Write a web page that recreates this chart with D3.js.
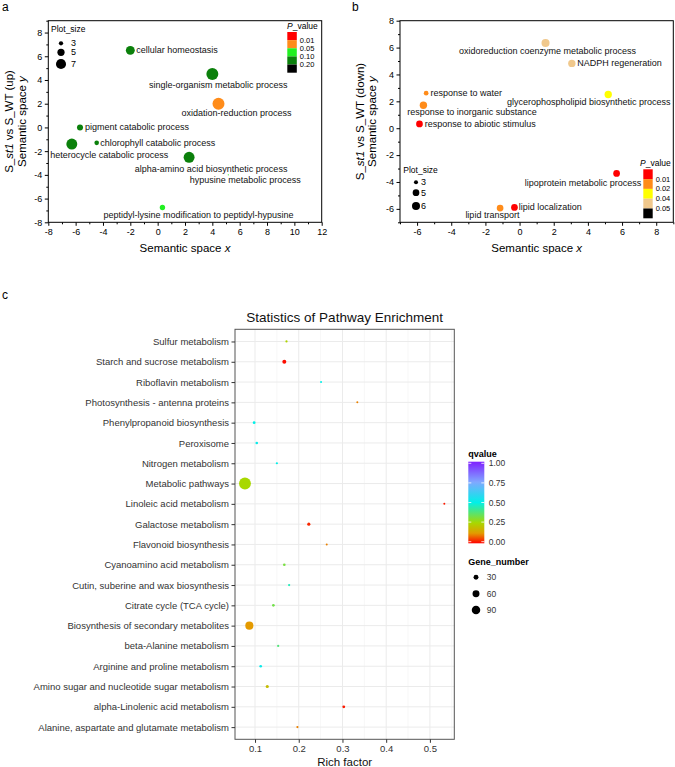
<!DOCTYPE html>
<html><head><meta charset="utf-8">
<script src="https://cdn.jsdelivr.net/npm/d3@7"></script>
<style>body{margin:0;background:#fff} svg{display:block} text{font-family:"Liberation Sans",Arial,Helvetica,sans-serif}</style>
</head><body><svg id="fig" width="675" height="767"></svg>
<script>
// ---------- Panel a data ----------
const aTerms = ["cellular homeostasis","single-organism metabolic process","oxidation-reduction process","pigment catabolic process","chlorophyll catabolic process","heterocycle catabolic process","alpha-amino acid biosynthetic process","hypusine metabolic process","peptidyl-lysine modification to peptidyl-hypusine"];
const aX = [-2.0, 4.0, 4.45, -5.68, -4.46, -6.28, 2.3, 5.17, 0.35];
const aY = [6.5, 4.5, 2.0, 0.0, -1.3, -1.4, -2.52, -4.0, -6.75];
const aPlotSize = [6.2, 8.3, 8.3, 4.2, 3.2, 7.6, 7.6, 0.8, 3.7];
const aPvalue = [0.15, 0.15, 0.03, 0.15, 0.15, 0.15, 0.15, 0.07, 0.07];
const aPBreaks = [0.01, 0.05, 0.10, 0.20];
const aPBreakLabels = ["0.01","0.05","0.10","0.20"];
const aPColors = ["#ff0000","#ff8c1a","#22f022","#0b800b","#000000"];
const aSizeLegend = [3, 5, 7];
const aXTicks = [-8,-6,-4,-2,0,2,4,6,8,10,12];
const aYTicks = [-8,-6,-4,-2,0,2,4,6,8];

// ---------- Panel b data ----------
const bTerms = ["oxidoreduction coenzyme metabolic process","NADPH regeneration","response to water","glycerophospholipid biosynthetic process","response to inorganic substance","response to abiotic stimulus","lipoprotein metabolic process","lipid transport","lipid localization"];
const bX = [1.52, 3.06, -5.47, 5.19, -5.63, -5.86, 5.68, -1.14, -0.3];
const bY = [6.34, 4.82, 2.61, 2.51, 1.71, 0.32, -3.36, -5.94, -5.89];
const bPlotSize = [6, 5.5, 3.5, 5.5, 5.5, 5, 5, 5, 5];
const bPvalue = [0.045, 0.045, 0.015, 0.03, 0.015, 0.005, 0.005, 0.015, 0.005];
const bPBreaks = [0.01, 0.02, 0.04, 0.05];
const bPBreakLabels = ["0.01","0.02","0.04","0.05"];
const bPColors = ["#ff0000","#ff8c1a","#ffff00","#f0c88c","#000000"];
const bSizeLegend = [3, 5, 6];
const bXTicks = [-6,-4,-2,0,2,4,6,8];
const bYTicks = [-6,-4,-2,0,2,4,6,8];

// ---------- Panel c data ----------
const pathways = ["Sulfur metabolism","Starch and sucrose metabolism","Riboflavin metabolism","Photosynthesis - antenna proteins","Phenylpropanoid biosynthesis","Peroxisome","Nitrogen metabolism","Metabolic pathways","Linoleic acid metabolism","Galactose metabolism","Flavonoid biosynthesis","Cyanoamino acid metabolism","Cutin, suberine and wax biosynthesis","Citrate cycle (TCA cycle)","Biosynthesis of secondary metabolites","beta-Alanine metabolism","Arginine and proline metabolism","Amino sugar and nucleotide sugar metabolism","alpha-Linolenic acid metabolism","Alanine, aspartate and glutamate metabolism"];
const richFactor = [0.172, 0.167, 0.251, 0.334, 0.098, 0.104, 0.150, 0.077, 0.533, 0.223, 0.264, 0.167, 0.178, 0.142, 0.087, 0.153, 0.113, 0.128, 0.303, 0.197];
const qvalue = [0.24, 0.01, 0.50, 0.10, 0.50, 0.52, 0.50, 0.25, 0.02, 0.03, 0.10, 0.32, 0.45, 0.33, 0.12, 0.38, 0.52, 0.19, 0.02, 0.10];
const geneNumber = [5, 16, 4, 4, 8, 7, 5, 142, 4, 10, 4, 7, 5, 7, 66, 5, 7, 10, 8, 5];
const cXTicks = [0.1, 0.2, 0.3, 0.4, 0.5];
const qLegendTicks = [0, 0.25, 0.5, 0.75, 1];
const geneLegend = [30, 60, 90];
const qStops = [0, 0.12, 0.25, 0.5, 0.75, 1];
const qColors = ["#ff0000", "#e49a00", "#a8d800", "#00f0e8", "#80a8ff", "#8020ff"];

// ---------- layout (label placement, not data) ----------
const aLabelLayout = [
  {a:"start", dx:6, dy:0}, {a:"middle", dx:6, dy:10.7}, {a:"middle", dx:18, dy:9.6},
  {a:"start", dx:5, dy:0}, {a:"start", dx:3.5, dy:0}, {a:"middle", dx:37.5, dy:10.6},
  {a:"middle", dx:22, dy:11.3}, {a:"middle", dx:17, dy:4.7}, {a:"middle", dx:36, dy:7.7}];
const bLabelLayout = [
  {a:"middle", dx:2, dy:8}, {a:"start", dx:5.4, dy:0}, {a:"start", dx:4.3, dy:0},
  {a:"middle", dx:-19.4, dy:8}, {a:"middle", dx:48.7, dy:7}, {a:"start", dx:5.3, dy:0},
  {a:"middle", dx:-33.5, dy:9.3}, {a:"middle", dx:-7.7, dy:6.7}, {a:"start", dx:4.3, dy:-0.6}];

const svg = d3.select("#fig");

function scatterPanel(cfg) {
  const g = svg.append("g");
  const x = d3.scaleLinear().domain(cfg.xDom).range(cfg.xRange);
  const y = d3.scaleLinear().domain(cfg.yDom).range(cfg.yRange);
  const [x0, x1] = cfg.xRange, [y0, y1] = cfg.yRange; // y0 bottom
  g.append("rect").attr("x", x0).attr("y", y1).attr("width", x1 - x0).attr("height", y0 - y1)
    .attr("fill", "none").attr("stroke", "#000").attr("stroke-width", 1);
  const minorX = d3.range(Math.ceil(cfg.xDom[0]), cfg.xDom[1] + 0.001, 1).filter(v => !cfg.xTicks.includes(v));
  const minorY = d3.range(Math.ceil(cfg.yDom[0]), cfg.yDom[1] + 0.001, 1).filter(v => !cfg.yTicks.includes(v));
  const xa = g.append("g").attr("transform", `translate(0,${y0})`)
    .call(d3.axisBottom(x).tickValues(cfg.xTicks).tickSize(3.5).tickPadding(2.5).tickFormat(d3.format("d")));
  const xm = g.append("g").attr("transform", `translate(0,${y0})`)
    .call(d3.axisBottom(x).tickValues(minorX).tickSize(2).tickFormat(""));
  const ya = g.append("g").attr("transform", `translate(${x0},0)`)
    .call(d3.axisLeft(y).tickValues(cfg.yTicks).tickSize(3.5).tickPadding(2.5).tickFormat(d3.format("d")));
  const ym = g.append("g").attr("transform", `translate(${x0},0)`)
    .call(d3.axisLeft(y).tickValues(minorY).tickSize(2).tickFormat(""));
  [xa, xm, ya, ym].forEach(s => { s.select(".domain").remove(); s.selectAll("line").attr("stroke", "#000"); });
  [xa, ya].forEach(s => s.selectAll("text").attr("font-size", 9).attr("fill", "#000")
     .text(d => d < 0 ? "-" + Math.abs(d) : d));
  const pColor = d3.scaleThreshold().domain(cfg.pBreaks).range(cfg.pColors);
  const r = v => v * cfg.rk;
  const idx = d3.range(cfg.terms.length);
  g.selectAll("circle.pt").data(idx).join("circle").attr("class", "pt")
    .attr("cx", i => x(cfg.xs[i])).attr("cy", i => y(cfg.ys[i]))
    .attr("r", i => r(cfg.sizes[i])).attr("fill", i => pColor(cfg.ps[i]));
  g.selectAll("text.lbl").data(idx).join("text").attr("class", "lbl")
    .attr("x", i => x(cfg.xs[i]) + cfg.layout[i].dx).attr("y", i => y(cfg.ys[i]) + cfg.layout[i].dy)
    .attr("text-anchor", i => cfg.layout[i].a).attr("dominant-baseline", "central")
    .attr("font-size", 9).attr("fill", "#111").text(i => cfg.terms[i]);
  const xt = g.append("text").attr("x", (x0 + x1) / 2).attr("y", cfg.xTitleY).attr("text-anchor", "middle")
    .attr("font-size", 11.5).attr("dominant-baseline", "central");
  xt.append("tspan").text("Semantic space ");
  xt.append("tspan").attr("font-style", "italic").text("x");
  const cy = (y0 + y1) / 2;
  const yt1 = g.append("text").attr("transform", `translate(${cfg.yTitleX1},${cy}) rotate(-90)`)
    .attr("text-anchor", "middle").attr("font-size", 11.5).attr("dominant-baseline", "central");
  yt1.append("tspan").text("S_");
  yt1.append("tspan").attr("font-style", "italic").text("st1");
  yt1.append("tspan").text(cfg.yTitleTail);
  const yt2 = g.append("text").attr("transform", `translate(${cfg.yTitleX2},${cy}) rotate(-90)`)
    .attr("text-anchor", "middle").attr("font-size", 11.5).attr("dominant-baseline", "central");
  yt2.append("tspan").text("Semantic space ");
  yt2.append("tspan").attr("font-style", "italic").text("y");
  const sl = cfg.sizeLeg;
  g.append("text").attr("x", sl.x).attr("y", sl.titleY).attr("font-size", 8.5)
    .attr("dominant-baseline", "central").text("Plot_size");
  cfg.sizeLegend.forEach((v, k) => {
    g.append("circle").attr("cx", sl.cx).attr("cy", sl.ys[k]).attr("r", r(v)).attr("fill", "#000");
    g.append("text").attr("x", sl.tx).attr("y", sl.ys[k]).attr("font-size", 9)
      .attr("dominant-baseline", "central").text(v);
  });
  const pl = cfg.pLeg;
  const pt = g.append("text").attr("x", pl.titleX).attr("y", pl.titleY).attr("font-size", 8.5)
    .attr("dominant-baseline", "central");
  pt.append("tspan").attr("font-style", "italic").text("P");
  pt.append("tspan").text("_value");
  const cellH = pl.h / cfg.pColors.length;
  cfg.pColors.forEach((c, k) => {
    g.append("rect").attr("x", pl.x).attr("y", pl.y + k * cellH).attr("width", pl.w).attr("height", cellH).attr("fill", c);
  });
  cfg.pBreakLabels.forEach((t, k) => {
    g.append("text").attr("x", pl.x + pl.w + 3).attr("y", pl.y + (k + 1) * cellH)
      .attr("font-size", 7.5).attr("dominant-baseline", "central").text(t);
  });
  g.append("text").attr("x", cfg.letterX).attr("y", 11).attr("font-size", 12).text(cfg.letter);
}

scatterPanel({
  letter: "a", letterX: 2,
  terms: aTerms, xs: aX, ys: aY, sizes: aPlotSize, ps: aPvalue, layout: aLabelLayout,
  xDom: [-8, 12], yDom: [-8, 9], xRange: [48.3, 321.7], yRange: [222.3, 20.7],
  xTicks: aXTicks, yTicks: aYTicks, rk: 0.72,
  pBreaks: aPBreaks, pColors: aPColors, pBreakLabels: aPBreakLabels, sizeLegend: aSizeLegend,
  xTitleY: 248, yTitleX1: 9, yTitleX2: 22, yTitleTail: " vs S_WT (up)",
  sizeLeg: {x: 51, titleY: 29.3, cx: 61, tx: 71, ys: [43.3, 52.3, 64]},
  pLeg: {titleX: 287, titleY: 26, x: 287.3, y: 32, w: 9.5, h: 40.7}
});

scatterPanel({
  letter: "b", letterX: 352,
  terms: bTerms, xs: bX, ys: bY, sizes: bPlotSize, ps: bPvalue, layout: bLabelLayout,
  xDom: [-7, 9], yDom: [-7, 8], xRange: [400, 673.3], yRange: [222.3, 20.7],
  xTicks: bXTicks, yTicks: bYTicks, rk: 0.67,
  pBreaks: bPBreaks, pColors: bPColors, pBreakLabels: bPBreakLabels, sizeLegend: bSizeLegend,
  xTitleY: 248.3, yTitleX1: 360, yTitleX2: 372, yTitleTail: " vs S_WT (down)",
  sizeLeg: {x: 403.3, titleY: 170, cx: 416, tx: 421, ys: [182.3, 192.7, 206]},
  pLeg: {titleX: 640, titleY: 163.3, x: 643.3, y: 169.3, w: 9.4, h: 49}
});

// ---------- Panel c ----------
(function () {
  const g = svg.append("g");
  const L = 235, R = 454.3, T = 329.3, B = 739.3;
  const ext = d3.extent(richFactor), span = ext[1] - ext[0];
  const x = d3.scaleLinear().domain([ext[0] - 0.05 * span, ext[1] + 0.05 * span]).range([L, R]);
  const y = d3.scalePoint().domain(pathways).range([T, B]).padding(0.6);
  const col = d3.scaleLinear().domain(qStops).range(qColors).interpolate(d3.interpolateRgb);
  const rs = d3.scaleSqrt().domain([0, 150]).range([0, 6.1]);
  const minor = d3.range(0.05, 0.6, 0.1).map(v => +v.toFixed(2)).filter(v => x(v) > L && x(v) < R);
  g.selectAll("line.gmin").data(minor).join("line").attr("x1", d => x(d)).attr("x2", d => x(d))
    .attr("y1", T).attr("y2", B).attr("stroke", "#f2f2f2").attr("stroke-width", 0.6);
  g.selectAll("line.gx").data(cXTicks).join("line").attr("x1", d => x(d)).attr("x2", d => x(d))
    .attr("y1", T).attr("y2", B).attr("stroke", "#ebebeb").attr("stroke-width", 1);
  g.selectAll("line.gy").data(pathways).join("line").attr("x1", L).attr("x2", R)
    .attr("y1", d => y(d)).attr("y2", d => y(d)).attr("stroke", "#ebebeb").attr("stroke-width", 1);
  const idx = d3.range(pathways.length);
  g.selectAll("circle.pt").data(idx).join("circle")
    .attr("cx", i => x(richFactor[i])).attr("cy", i => y(pathways[i]))
    .attr("r", i => rs(geneNumber[i])).attr("fill", i => col(qvalue[i]));
  g.append("rect").attr("x", L).attr("y", T).attr("width", R - L).attr("height", B - T)
    .attr("fill", "none").attr("stroke", "#555").attr("stroke-width", 1);
  const xa = g.append("g").attr("transform", `translate(0,${B})`)
    .call(d3.axisBottom(x).tickValues(cXTicks).tickSize(3.5).tickPadding(2).tickFormat(d3.format(".1f")));
  const ya = g.append("g").attr("transform", `translate(${L},0)`)
    .call(d3.axisLeft(y).tickSize(3.5).tickPadding(2.5));
  [xa, ya].forEach(s => {
    s.select(".domain").remove();
    s.selectAll("line").attr("stroke", "#333");
    s.selectAll("text").attr("font-size", 9.5).attr("fill", "#333");
  });
  g.append("text").attr("x", (L + R) / 2).attr("y", 317.7).attr("text-anchor", "middle")
    .attr("dominant-baseline", "central").attr("font-size", 13.5).attr("fill", "#111")
    .text("Statistics of Pathway Enrichment");
  g.append("text").attr("x", (L + R) / 2).attr("y", 761.5).attr("text-anchor", "middle")
    .attr("dominant-baseline", "central").attr("font-size", 11.5).attr("fill", "#111").text("Rich factor");
  g.append("text").attr("x", 2).attr("y", 299).attr("font-size", 12).text("c");
  const lx = 468.3, ly0 = 461.7, ly1 = 543.3, lw = 16;
  g.append("text").attr("x", lx).attr("y", 454.3).attr("font-size", 9).attr("font-weight", "bold")
    .attr("dominant-baseline", "central").text("qvalue");
  const grad = svg.append("defs").append("linearGradient").attr("id", "qgrad")
    .attr("x1", 0).attr("y1", 1).attr("x2", 0).attr("y2", 0);
  d3.range(0, 1.0001, 0.025).forEach(t => grad.append("stop").attr("offset", t).attr("stop-color", col(t)));
  g.append("rect").attr("x", lx).attr("y", ly0).attr("width", lw).attr("height", ly1 - ly0).attr("fill", "url(#qgrad)");
  const qy = d3.scaleLinear().domain([0, 1]).range([ly1 - 1.6, ly0 + 1.6]);
  qLegendTicks.forEach(v => {
    g.append("line").attr("x1", lx).attr("x2", lx + 3).attr("y1", qy(v)).attr("y2", qy(v)).attr("stroke", "#fff").attr("stroke-width", 0.8);
    g.append("line").attr("x1", lx + lw - 3).attr("x2", lx + lw).attr("y1", qy(v)).attr("y2", qy(v)).attr("stroke", "#fff").attr("stroke-width", 0.8);
    g.append("text").attr("x", 488.7).attr("y", qy(v)).attr("font-size", 8.5).attr("fill", "#333")
      .attr("dominant-baseline", "central").text(v.toFixed(2));
  });
  g.append("text").attr("x", lx).attr("y", 562.3).attr("font-size", 9).attr("font-weight", "bold")
    .attr("dominant-baseline", "central").text("Gene_number");
  const gys = [577.3, 593.7, 610];
  geneLegend.forEach((v, k) => {
    g.append("circle").attr("cx", 476).attr("cy", gys[k]).attr("r", rs(v) * 0.9).attr("fill", "#000");
    g.append("text").attr("x", 486.7).attr("y", gys[k]).attr("font-size", 8.5).attr("fill", "#333")
      .attr("dominant-baseline", "central").text(v);
  });
})();
</script></body></html>
